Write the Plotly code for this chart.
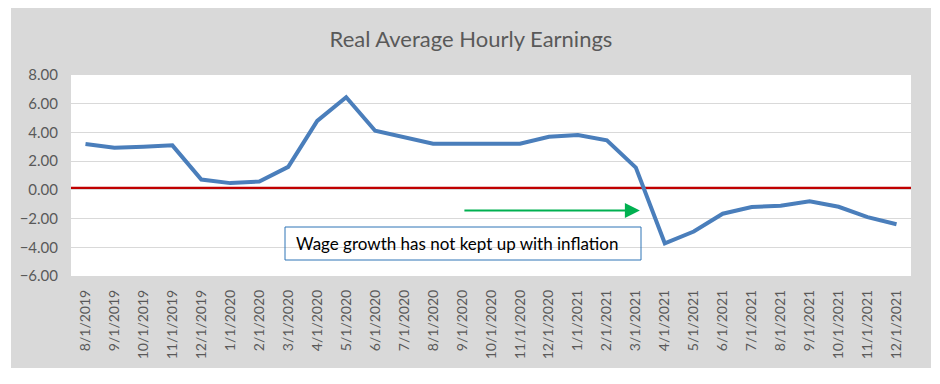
import plotly.graph_objects as go

dates = ["8/1/2019", "9/1/2019", "10/1/2019", "11/1/2019", "12/1/2019",
         "1/1/2020", "2/1/2020", "3/1/2020", "4/1/2020", "5/1/2020", "6/1/2020",
         "7/1/2020", "8/1/2020", "9/1/2020", "10/1/2020", "11/1/2020", "12/1/2020",
         "1/1/2021", "2/1/2021", "3/1/2021", "4/1/2021", "5/1/2021", "6/1/2021",
         "7/1/2021", "8/1/2021", "9/1/2021", "10/1/2021", "11/1/2021", "12/1/2021"]
earnings = [3.2, 2.93, 3.0, 3.1, 0.72, 0.47, 0.58, 1.6, 4.8, 6.45, 4.12,
            3.7, 3.22, 3.22, 3.22, 3.22, 3.7, 3.82, 3.45, 1.55, -3.72,
            -2.9, -1.66, -1.2, -1.1, -0.8, -1.18, -1.9, -2.4]
threshold = 0.12

title_text = "Real Average Hourly Earnings"
note_text = "Wage growth has not kept up with inflation"
arrow_y = -1.43
arrow_from = 13.03
arrow_to = 19.14

FONT = "Lato"
GREY_TXT = "#595959"

# page body has an 8px default margin; figure is sized/offset accordingly
OFF = 8
W, H = 940 - OFF, 384 - OFF
L, R, T, B = 71 - OFF, 29, 75 - OFF, 108
PW, PH = W - L - R, H - T - B


def px_x(x):
    return (x - 71) / PW


def px_y(y):
    return (276 - y) / PH


fig = go.Figure()
fig.add_trace(go.Scatter(
    x=dates, y=earnings, mode="lines",
    line=dict(color="#4a7ebb", width=4),
    hoverinfo="x+y", showlegend=False))

shapes = [
    dict(type="rect", xref="paper", yref="paper", x0=px_x(11), x1=px_x(931),
         y0=px_y(368), y1=px_y(8), fillcolor="#d9d9d9", line=dict(width=0),
         layer="below"),
    dict(type="rect", xref="paper", yref="paper", x0=0, x1=1, y0=0, y1=1,
         fillcolor="#ffffff", line=dict(width=0), layer="below"),
    dict(type="line", xref="paper", yref="y", x0=0, x1=1,
         y0=threshold, y1=threshold, line=dict(color="#c00000", width=3),
         layer="between"),
    dict(type="rect", xref="paper", yref="paper",
         x0=px_x(285), x1=px_x(641), y0=px_y(260), y1=px_y(227),
         line=dict(color="#2e75b6", width=1), fillcolor="rgba(0,0,0,0)",
         layer="above"),
]

annotations = [
    dict(text=note_text, xref="paper", yref="paper",
         x=px_x(294), y=px_y(243.5), xanchor="left",
         yanchor="middle", showarrow=False,
         font=dict(family=FONT, size=17, color="#000000")),
    dict(x=arrow_to, y=arrow_y, ax=arrow_from, ay=arrow_y, xref="x", yref="y",
         axref="x", ayref="y", text="", showarrow=True, arrowhead=2,
         arrowsize=1.5, arrowwidth=2, arrowcolor="#00b050"),
]

fig.update_layout(
    width=W, height=H,
    margin=dict(l=L, r=R, t=T, b=B),
    paper_bgcolor="#ffffff", plot_bgcolor="#ffffff",
    title=dict(text=title_text, x=(471 - OFF) / W, xref="container",
               xanchor="center", y=1 - (39 - OFF) / H, yref="container",
               yanchor="middle",
               font=dict(family=FONT, size=22, color=GREY_TXT)),
    shapes=shapes, annotations=annotations,
    font=dict(family=FONT, color=GREY_TXT),
)
fig.update_xaxes(
    type="category", range=[-0.5, len(dates) - 0.5], tickangle=-90,
    showgrid=False, zeroline=False,
    showline=False, ticks="", ticklabelstandoff=10,
    tickfont=dict(family=FONT, size=14, color=GREY_TXT))
fig.update_yaxes(
    range=[-6, 8], dtick=2, tickformat=".2f", showgrid=True,
    gridcolor="#d9d9d9", gridwidth=1, zeroline=False, showline=False,
    ticks="", ticklabelstandoff=12,
    tickfont=dict(family=FONT, size=15, color=GREY_TXT))

fig.write_html("out.html")
